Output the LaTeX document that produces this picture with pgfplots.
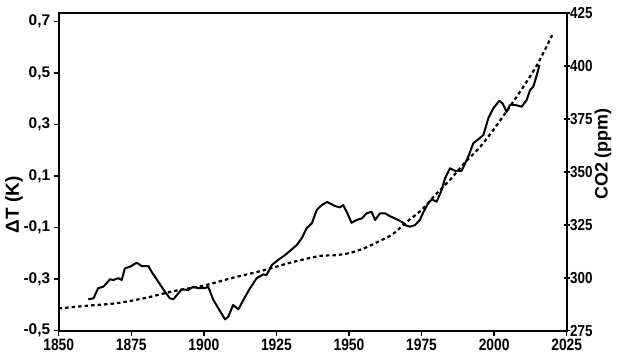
\documentclass[border=0pt]{standalone}
\usepackage{fontspec}
\setmainfont{Liberation Sans}
\newfontfamily\narrowfont[FakeStretch=0.84]{Liberation Sans}
\usepackage{pgfplots}
\pgfplotsset{compat=1.18}
\usetikzlibrary{calc}

\pgfplotstableread{
year T
1860.2 -0.378
1862.0 -0.374
1863.6 -0.335
1865.4 -0.329
1867.7 -0.300
1868.8 -0.303
1870.5 -0.296
1871.7 -0.303
1872.8 -0.258
1874.6 -0.251
1876.9 -0.236
1878.6 -0.249
1880.9 -0.249
1882.0 -0.271
1884.3 -0.310
1886.6 -0.349
1888.3 -0.374
1889.5 -0.378
1891.2 -0.355
1892.4 -0.339
1894.6 -0.342
1896.4 -0.329
1898.1 -0.335
1900.4 -0.335
1901.5 -0.329
1903.3 -0.381
1905.0 -0.413
1907.3 -0.456
1908.4 -0.446
1910.1 -0.400
1911.9 -0.417
1913.6 -0.381
1915.9 -0.335
1918.2 -0.296
1920.5 -0.281
1921.6 -0.284
1923.4 -0.245
1925.6 -0.225
1928.0 -0.206
1930.3 -0.184
1932.0 -0.167
1933.7 -0.141
1935.4 -0.102
1937.2 -0.083
1938.9 -0.031
1940.6 -0.012
1942.5 0.000
1945.2 -0.016
1946.9 -0.021
1948.0 -0.012
1949.2 -0.038
1950.9 -0.081
1952.6 -0.070
1954.4 -0.064
1956.1 -0.044
1957.8 -0.038
1959.0 -0.070
1960.7 -0.044
1962.4 -0.044
1964.1 -0.055
1966.4 -0.067
1968.2 -0.077
1969.3 -0.090
1971.0 -0.096
1972.7 -0.090
1974.4 -0.070
1975.6 -0.040
1977.3 -0.005
1978.5 0.010
1980.2 0.001
1981.9 0.046
1983.1 0.092
1984.8 0.131
1986.5 0.121
1988.8 0.121
1990.0 0.150
1991.1 0.176
1992.8 0.228
1994.5 0.243
1996.3 0.260
1998.0 0.325
1999.7 0.364
2001.8 0.393
2002.9 0.383
2004.3 0.350
2005.5 0.377
2007.2 0.377
2009.5 0.370
2011.2 0.396
2012.4 0.435
2013.5 0.448
2014.7 0.493
2015.6 0.532
}\temptable

\pgfplotstableread{
year C
1850 285.5
1860 286.8
1870 288.0
1880 290.5
1890 293.8
1900 296.3
1910 300.0
1920 303.3
1930 307.2
1940 310.3
1945 310.6
1950 311.6
1955 313.8
1960 317.0
1965 320.5
1970 326.5
1975 332.0
1980 339.5
1985 346.5
1990 354.5
1995 361.5
2000 370.3
2005 380.0
2010 390.0
2015 401.0
2020 414.5
}\cotable

\begin{document}
\begin{tikzpicture}
\pgfplotsset{
  common/.style={
    width=508bp, height=317.7bp, scale only axis,
    xmin=1850, xmax=2025,
    axis line style={line width=2.2bp},
    every tick/.style={black, line width=1.5bp},
    major tick length=5bp,
    /pgf/number format/assume math mode=true,
  }
}
\begin{axis}[common, name=ax,
  ymin=-0.5, ymax=0.734,
  xtick={1850,1875,...,2025},
  xtick pos=bottom, ytick pos=left,
  tick align=outside,
  x tick label style={font=\fontsize{16.5}{16}\narrowfont\bfseries, /pgf/number format/1000 sep={}, yshift=0bp},
  ytick={-0.5,-0.3,...,0.71},
  y tick label style={font=\fontsize{15.5}{16}\selectfont\bfseries, /pgf/number format/.cd, use comma, fixed, fixed zerofill, precision=1},
  ylabel={ΔT (K)},
  ylabel style={font=\fontsize{19}{19}\selectfont\bfseries, at={(axis description cs:-0.088,0.396)}, anchor=center},
]
\addplot[black, line width=2bp, line join=round] table[x=year, y=T] {\temptable};
\end{axis}
\begin{axis}[common,
  ymin=275, ymax=425,
  axis x line=none, axis y line*=right,
  ytick={275,300,...,425},
  tick align=center,
  major tick length=6bp,
  y tick label style={font=\fontsize{16}{16}\narrowfont\bfseries, xshift=-3bp},
  ylabel={CO2 (ppm)},
  ylabel style={font=\fontsize{18}{18}\selectfont\bfseries, at={(axis description cs:1.0715,0.556)}, anchor=center},
]
\addplot[black, line width=2.2bp, dash pattern=on 3.5bp off 3bp, smooth] table[x=year, y=C] {\cotable};
\end{axis}
\pgfresetboundingbox
\path ($(ax.south west)+(-58.7bp,-26.3bp)$) rectangle ($(ax.north east)+(57.3bp,13bp)$);
\end{tikzpicture}
\end{document}
